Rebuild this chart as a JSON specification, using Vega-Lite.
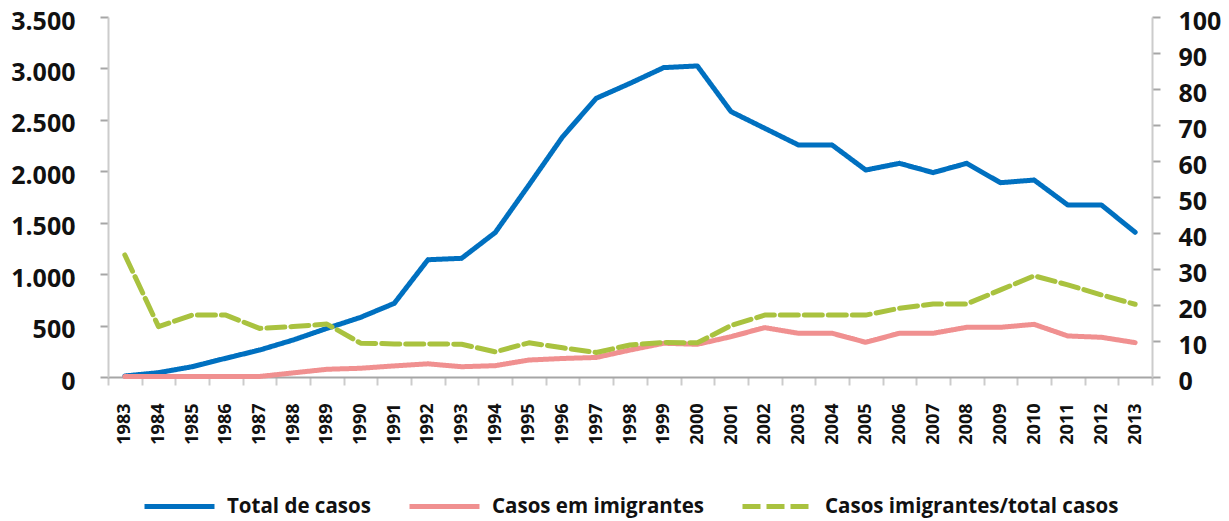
{
  "$schema": "https://vega.github.io/schema/vega-lite/v6.json",
  "width": 1044,
  "height": 360,
  "autosize": {"type": "none"},
  "padding": {"left": 108, "top": 17, "right": 77, "bottom": 144},
  "background": "white",
  "config": {
    "view": {"stroke": null},
    "font": "Open Sans",
    "legend": {
      "orient": "none",
      "legendX": 34,
      "legendY": 452,
      "direction": "horizontal",
      "symbolType": "stroke",
      "symbolSize": 4900,
      "symbolStrokeWidth": 5,
      "labelFont": "Open Sans",
      "labelFontSize": 20.5,
      "labelFontWeight": "bold",
      "labelColor": "#111111",
      "labelOffset": 10,
      "columnPadding": 28,
      "labelLimit": 400
    }
  },
  "data": {
    "values": [
      {"ano": "1983", "serie": "Total de casos", "valor": 10},
      {"ano": "1984", "serie": "Total de casos", "valor": 42},
      {"ano": "1985", "serie": "Total de casos", "valor": 100},
      {"ano": "1986", "serie": "Total de casos", "valor": 182},
      {"ano": "1987", "serie": "Total de casos", "valor": 262},
      {"ano": "1988", "serie": "Total de casos", "valor": 360},
      {"ano": "1989", "serie": "Total de casos", "valor": 473},
      {"ano": "1990", "serie": "Total de casos", "valor": 580},
      {"ano": "1991", "serie": "Total de casos", "valor": 716},
      {"ano": "1992", "serie": "Total de casos", "valor": 1140},
      {"ano": "1993", "serie": "Total de casos", "valor": 1154},
      {"ano": "1994", "serie": "Total de casos", "valor": 1405},
      {"ano": "1995", "serie": "Total de casos", "valor": 1867},
      {"ano": "1996", "serie": "Total de casos", "valor": 2336},
      {"ano": "1997", "serie": "Total de casos", "valor": 2710},
      {"ano": "1998", "serie": "Total de casos", "valor": 2855},
      {"ano": "1999", "serie": "Total de casos", "valor": 3008},
      {"ano": "2000", "serie": "Total de casos", "valor": 3024},
      {"ano": "2001", "serie": "Total de casos", "valor": 2580},
      {"ano": "2002", "serie": "Total de casos", "valor": 2418},
      {"ano": "2003", "serie": "Total de casos", "valor": 2256},
      {"ano": "2004", "serie": "Total de casos", "valor": 2256},
      {"ano": "2005", "serie": "Total de casos", "valor": 2012},
      {"ano": "2006", "serie": "Total de casos", "valor": 2077},
      {"ano": "2007", "serie": "Total de casos", "valor": 1987},
      {"ano": "2008", "serie": "Total de casos", "valor": 2077},
      {"ano": "2009", "serie": "Total de casos", "valor": 1889},
      {"ano": "2010", "serie": "Total de casos", "valor": 1915},
      {"ano": "2011", "serie": "Total de casos", "valor": 1672},
      {"ano": "2012", "serie": "Total de casos", "valor": 1672},
      {"ano": "2013", "serie": "Total de casos", "valor": 1407},
      {"ano": "1983", "serie": "Casos em imigrantes", "valor": 5},
      {"ano": "1984", "serie": "Casos em imigrantes", "valor": 5},
      {"ano": "1985", "serie": "Casos em imigrantes", "valor": 5},
      {"ano": "1986", "serie": "Casos em imigrantes", "valor": 5},
      {"ano": "1987", "serie": "Casos em imigrantes", "valor": 5},
      {"ano": "1988", "serie": "Casos em imigrantes", "valor": 40},
      {"ano": "1989", "serie": "Casos em imigrantes", "valor": 75},
      {"ano": "1990", "serie": "Casos em imigrantes", "valor": 85},
      {"ano": "1991", "serie": "Casos em imigrantes", "valor": 108},
      {"ano": "1992", "serie": "Casos em imigrantes", "valor": 128},
      {"ano": "1993", "serie": "Casos em imigrantes", "valor": 100},
      {"ano": "1994", "serie": "Casos em imigrantes", "valor": 110},
      {"ano": "1995", "serie": "Casos em imigrantes", "valor": 165},
      {"ano": "1996", "serie": "Casos em imigrantes", "valor": 180},
      {"ano": "1997", "serie": "Casos em imigrantes", "valor": 190},
      {"ano": "1998", "serie": "Casos em imigrantes", "valor": 262},
      {"ano": "1999", "serie": "Casos em imigrantes", "valor": 328},
      {"ano": "2000", "serie": "Casos em imigrantes", "valor": 318},
      {"ano": "2001", "serie": "Casos em imigrantes", "valor": 392},
      {"ano": "2002", "serie": "Casos em imigrantes", "valor": 480},
      {"ano": "2003", "serie": "Casos em imigrantes", "valor": 425},
      {"ano": "2004", "serie": "Casos em imigrantes", "valor": 425},
      {"ano": "2005", "serie": "Casos em imigrantes", "valor": 337},
      {"ano": "2006", "serie": "Casos em imigrantes", "valor": 425},
      {"ano": "2007", "serie": "Casos em imigrantes", "valor": 425},
      {"ano": "2008", "serie": "Casos em imigrantes", "valor": 483},
      {"ano": "2009", "serie": "Casos em imigrantes", "valor": 483},
      {"ano": "2010", "serie": "Casos em imigrantes", "valor": 512},
      {"ano": "2011", "serie": "Casos em imigrantes", "valor": 399},
      {"ano": "2012", "serie": "Casos em imigrantes", "valor": 386},
      {"ano": "2013", "serie": "Casos em imigrantes", "valor": 334},
      {"ano": "1983", "serie": "Casos imigrantes/total casos", "valor": 33.9},
      {"ano": "1984", "serie": "Casos imigrantes/total casos", "valor": 14.0},
      {"ano": "1985", "serie": "Casos imigrantes/total casos", "valor": 17.2},
      {"ano": "1986", "serie": "Casos imigrantes/total casos", "valor": 17.2},
      {"ano": "1987", "serie": "Casos imigrantes/total casos", "valor": 13.5},
      {"ano": "1988", "serie": "Casos imigrantes/total casos", "valor": 14.0},
      {"ano": "1989", "serie": "Casos imigrantes/total casos", "valor": 14.7},
      {"ano": "1990", "serie": "Casos imigrantes/total casos", "valor": 9.4},
      {"ano": "1991", "serie": "Casos imigrantes/total casos", "valor": 9.2},
      {"ano": "1992", "serie": "Casos imigrantes/total casos", "valor": 9.2},
      {"ano": "1993", "serie": "Casos imigrantes/total casos", "valor": 9.1},
      {"ano": "1994", "serie": "Casos imigrantes/total casos", "valor": 7.0},
      {"ano": "1995", "serie": "Casos imigrantes/total casos", "valor": 9.5},
      {"ano": "1996", "serie": "Casos imigrantes/total casos", "valor": 8.1},
      {"ano": "1997", "serie": "Casos imigrantes/total casos", "valor": 6.8},
      {"ano": "1998", "serie": "Casos imigrantes/total casos", "valor": 8.9},
      {"ano": "1999", "serie": "Casos imigrantes/total casos", "valor": 9.6},
      {"ano": "2000", "serie": "Casos imigrantes/total casos", "valor": 9.5},
      {"ano": "2001", "serie": "Casos imigrantes/total casos", "valor": 14.3},
      {"ano": "2002", "serie": "Casos imigrantes/total casos", "valor": 17.2},
      {"ano": "2003", "serie": "Casos imigrantes/total casos", "valor": 17.2},
      {"ano": "2004", "serie": "Casos imigrantes/total casos", "valor": 17.2},
      {"ano": "2005", "serie": "Casos imigrantes/total casos", "valor": 17.2},
      {"ano": "2006", "serie": "Casos imigrantes/total casos", "valor": 19.1},
      {"ano": "2007", "serie": "Casos imigrantes/total casos", "valor": 20.3},
      {"ano": "2008", "serie": "Casos imigrantes/total casos", "valor": 20.3},
      {"ano": "2009", "serie": "Casos imigrantes/total casos", "valor": 24.2},
      {"ano": "2010", "serie": "Casos imigrantes/total casos", "valor": 28.1},
      {"ano": "2011", "serie": "Casos imigrantes/total casos", "valor": 25.6},
      {"ano": "2012", "serie": "Casos imigrantes/total casos", "valor": 22.8},
      {"ano": "2013", "serie": "Casos imigrantes/total casos", "valor": 20.2}
    ]
  },
  "encoding": {
    "x": {
      "field": "ano",
      "type": "ordinal",
      "scale": {"type": "band", "paddingInner": 0, "paddingOuter": 0},
      "axis": {
        "title": null,
        "labelAngle": -90,
        "labelFont": "Open Sans",
        "labelFontSize": 18,
        "labelFontWeight": "bold",
        "labelColor": "#111111",
        "labelPadding": 18,
        "tickBand": "extent",
        "tickSize": 8,
        "tickWidth": 2,
        "domainWidth": 2,
        "domainColor": "#a6a6a6",
        "tickColor": "#cccccc",
        "grid": false
      }
    },
    "color": {
      "field": "serie",
      "type": "nominal",
      "title": null,
      "scale": {
        "domain": ["Total de casos", "Casos em imigrantes", "Casos imigrantes/total casos"],
        "range": ["#0070C0", "#F09090", "#A9C23F"]
      }
    },
    "strokeDash": {
      "field": "serie",
      "type": "nominal",
      "title": null,
      "scale": {
        "domain": ["Total de casos", "Casos em imigrantes", "Casos imigrantes/total casos"],
        "range": [[1, 0], [1, 0], [18, 6]]
      }
    }
  },
  "layer": [
    {
      "transform": [{"filter": "datum.serie !== 'Casos imigrantes/total casos'"}],
      "mark": {"type": "line", "strokeWidth": 5, "strokeCap": "round", "strokeJoin": "round"},
      "encoding": {
        "y": {
          "field": "valor",
          "type": "quantitative",
          "scale": {"domain": [0, 3500], "nice": false},
          "axis": {
            "title": null,
            "orient": "left",
            "values": [0, 500, 1000, 1500, 2000, 2500, 3000, 3500],
            "labelExpr": "replace(format(datum.value, ',.0f'), ',', '.')",
            "labelFont": "Open Sans",
            "labelFontSize": 25,
            "labelFontWeight": "bold",
            "labelColor": "#111111",
            "labelPadding": 25,
            "labelOffset": 4,
            "labelOverlap": false,
            "labelFlush": false,
            "tickSize": 8,
            "tickWidth": 2,
            "domainWidth": 2,
            "domainColor": "#cccccc",
            "tickColor": "#a6a6a6",
            "grid": false
          }
        }
      }
    },
    {
      "transform": [{"filter": "datum.serie === 'Casos imigrantes/total casos'"}],
      "mark": {"type": "line", "strokeWidth": 5, "strokeCap": "round", "strokeJoin": "round"},
      "encoding": {
        "y": {
          "field": "valor",
          "type": "quantitative",
          "scale": {"domain": [0, 100], "nice": false},
          "axis": {
            "title": null,
            "orient": "right",
            "values": [0, 10, 20, 30, 40, 50, 60, 70, 80, 90, 100],
            "labelFont": "Open Sans",
            "labelFontSize": 25,
            "labelFontWeight": "bold",
            "labelColor": "#111111",
            "labelPadding": 18,
            "labelOffset": 4,
            "labelOverlap": false,
            "labelFlush": false,
            "tickSize": 8,
            "tickWidth": 2,
            "domainWidth": 2,
            "domainColor": "#cccccc",
            "tickColor": "#a6a6a6",
            "grid": false
          }
        }
      }
    }
  ],
  "resolve": {"scale": {"y": "independent"}}
}
